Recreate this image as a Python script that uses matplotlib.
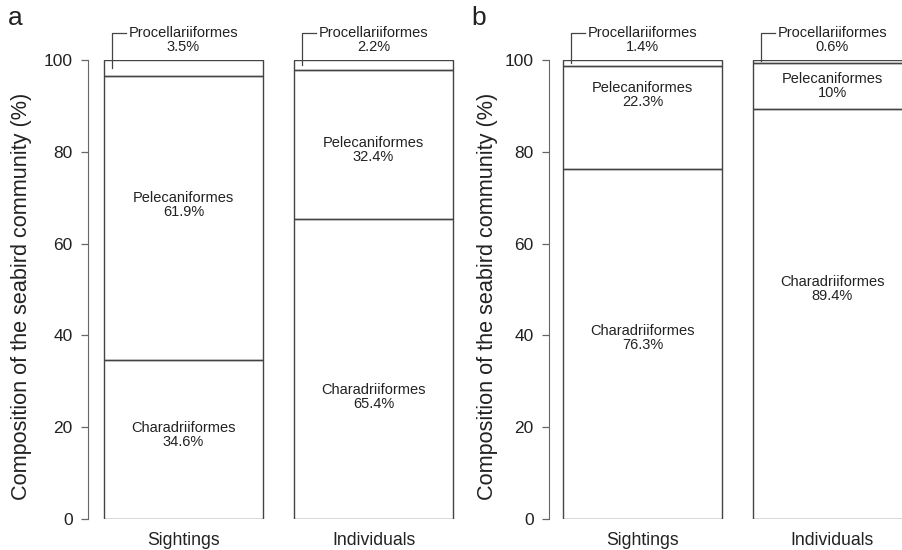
import matplotlib

matplotlib.use("Agg")
import matplotlib.pyplot as plt

plt.rcParams["font.family"] = ["Liberation Sans", "DejaVu Sans"]

# order: Charadriiformes, Pelecaniformes, Procellariiformes
orders = ["Charadriiformes", "Pelecaniformes", "Procellariiformes"]
bars = ["Sightings", "Individuals"]
panel_a = {
    "Sightings": [34.6, 61.9, 3.5],
    "Individuals": [65.4, 32.4, 2.2],
}
panel_b = {
    "Sightings": [76.3, 22.3, 1.4],
    "Individuals": [89.4, 10.0, 0.6],
}
pct_a = {"Sightings": ["34.6%", "61.9%", "3.5%"], "Individuals": ["65.4%", "32.4%", "2.2%"]}
pct_b = {"Sightings": ["76.3%", "22.3%", "1.4%"], "Individuals": ["89.4%", "10%", "0.6%"]}

# y position (data units) of the two lower labels in each bar
label_y_a = {"Sightings": [18.3, 68.4], "Individuals": [26.5, 80.4]}
label_y_b = {"Sightings": [39.5, 92.3], "Individuals": [50.0, 94.4]}

W, H = 902, 550
fig = plt.figure(figsize=(W / 100, H / 100), dpi=100)

EDGE = "#444444"
TXT = "#222222"
UNIT = 190.0  # px per category
BAR_W = 159 / UNIT


def make_panel(spine_px, left_off, data, pcts, label_y, letter, letter_px, ylabel_px):
    x0 = -left_off
    x1 = 1.62
    ax = fig.add_axes([spine_px / W, (H - 519) / H, (x1 - x0) * UNIT / W, 459 / H])
    ax.set_xlim(x0, x1)
    ax.set_ylim(0, 100)
    for s in ["top", "right", "bottom"]:
        ax.spines[s].set_visible(False)
    ax.spines["left"].set_bounds(0, 100)
    ax.spines["left"].set_color("#666666")
    ax.set_yticks([0, 20, 40, 60, 80, 100])
    ax.tick_params(axis="y", length=5, width=0.9, color="#666666", labelsize=12.5, pad=6, labelcolor=TXT)
    ax.set_xticks([])
    ax.patch.set_alpha(0)

    for i, name in enumerate(bars):
        vals = data[name]
        left = i - BAR_W / 2
        bottom = 0.0
        for v in vals:
            ax.bar(i, v, bottom=bottom, width=BAR_W, facecolor="none", edgecolor=EDGE, linewidth=1.0)
            bottom += v
        # lower two labels
        for k in range(2):
            ax.text(i, label_y[name][k], f"{orders[k]}\n{pcts[name][k]}", ha="center", va="center",
                    fontsize=10.5, color=TXT, linespacing=1.0)
        # Procellariiformes label above the bar with bracket
        ax.text(i, 104.3, f"{orders[2]}\n{pcts[name][2]}", ha="center", va="center",
                fontsize=10.5, color=TXT, linespacing=1.0, clip_on=False)
        mid = 100 - vals[2] / 2
        bx = left + 8 / UNIT
        ax.plot([bx, bx, left + 22 / UNIT], [mid, 105.8, 105.8], color=EDGE, lw=0.9, clip_on=False)
        ax.text(i, -2.8, name, ha="center", va="top", fontsize=12.7, color=TXT, clip_on=False)

    fig.text(letter_px / W, 1 - 18 / H, letter, fontsize=19, color=TXT, ha="left", va="center")
    fig.text(ylabel_px / W, 1 - 296 / H, "Composition of the seabird community (%)", rotation=90,
             fontsize=15.6, color=TXT, ha="center", va="center")
    return ax


make_panel(88, (183.5 - 88) / UNIT, panel_a, pct_a, label_y_a, "a", 8, 22)
make_panel(549, (642.5 - 549) / UNIT, panel_b, pct_b, label_y_b, "b", 471, 487)

fig.savefig("out.png", dpi=100)
